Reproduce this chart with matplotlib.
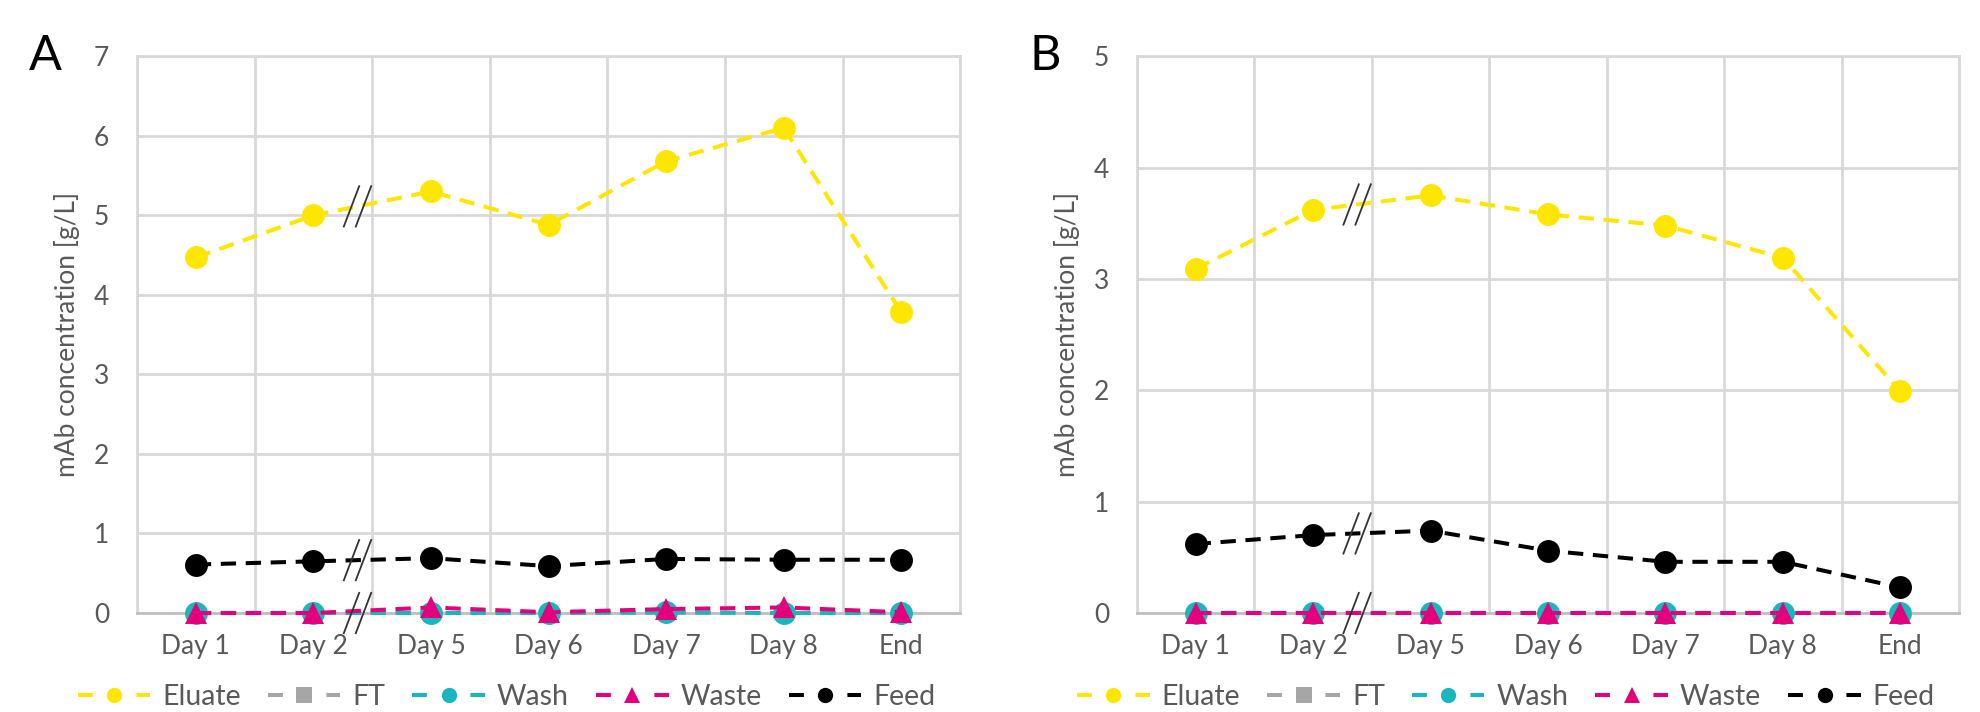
import numpy as np
import matplotlib
matplotlib.use("Agg")
import matplotlib.pyplot as plt
from matplotlib.lines import Line2D

# ---------------------------------------------------------------------
# mAb concentration per fraction, two runs (A, B)
# ---------------------------------------------------------------------

days = ["Day 1", "Day 2", "Day 5", "Day 6", "Day 7", "Day 8", "End"]
series_names = ["Eluate", "FT", "Wash", "Waste", "Feed"]

eluate_a = [4.47, 5.00, 5.30, 4.88, 5.68, 6.10, 3.78]
ft_a = [0.0, 0.0, 0.0, 0.0, 0.0, 0.0, 0.0]
wash_a = [0.0, 0.0, 0.0, 0.0, 0.01, 0.0, 0.0]
waste_a = [0.0, 0.0, 0.07, 0.01, 0.05, 0.07, 0.01]
feed_a = [0.61, 0.65, 0.69, 0.59, 0.68, 0.67, 0.67]

eluate_b = [3.09, 3.62, 3.75, 3.58, 3.48, 3.19, 1.99]
ft_b = [0.0, 0.0, 0.0, 0.0, 0.0, 0.0, 0.0]
wash_b = [0.0, 0.0, 0.0, 0.0, 0.0, 0.0, 0.0]
waste_b = [0.0, 0.0, 0.0, 0.0, 0.0, 0.0, 0.0]
feed_b = [0.62, 0.70, 0.74, 0.56, 0.46, 0.46, 0.23]

ymax_a = 7
ymax_b = 5

COLORS = {"Eluate": "#FFE600", "FT": "#A6A6A6", "Wash": "#19B6BE",
          "Waste": "#E4007C", "Feed": "#000000"}
MARKERS = {"Eluate": "o", "FT": "s", "Wash": "o", "Waste": "^", "Feed": "o"}
SIZES = {"Eluate": 16.5, "FT": 10, "Wash": 16.5, "Waste": 16, "Feed": 16.5}
TEXT_GREY = "#595959"
GRID_GREY = "#D9D9D9"
FS = 19
LEG_FS = 20.5

plt.rcParams["font.family"] = ["Lato", "DejaVu Sans"]


def draw_break(ax, x, y):
    """Two slanted strokes '//' centred on (x, y), sized in pixels."""
    cx, cy = ax.transData.transform((x, y))
    inv = ax.transData.inverted()
    for off in (-6, 6):
        pts = inv.transform([(cx + off - 8, cy - 21), (cx + off + 8, cy + 21)])
        ax.plot(pts[:, 0], pts[:, 1], color="#333333", lw=1.3,
                clip_on=False, zorder=8, solid_capstyle="butt")


def legend_handles():
    # Excel style: short dash, marker, short dash
    handles = []
    for name in series_names:
        handles.append(Line2D([], [], color=COLORS[name], lw=2.9,
                              dashes=(3.7, 10.8), dash_capstyle="butt",
                              marker=MARKERS[name], markersize=11,
                              markeredgewidth=0, label=name))
    return handles


def draw_panel(ax, data, ymax, letter):
    x = np.arange(len(days))
    for i, name in enumerate(series_names):
        ax.plot(x, data[name], color=COLORS[name], marker=MARKERS[name],
                markersize=SIZES[name], markeredgewidth=0, lw=2.9,
                dashes=(3.8, 2.4), dash_capstyle="butt", label=name,
                clip_on=False, zorder=3 + i)

    ax.set_xlim(-0.5, len(days) - 0.5)
    ax.set_ylim(0, ymax)
    ax.set_xticks(x)
    ax.set_xticklabels(days)
    ax.set_xticks(np.arange(len(days) + 1) - 0.5, minor=True)
    ax.set_yticks(np.arange(0, ymax + 1, 1))
    ax.tick_params(axis="both", which="both", length=0, labelsize=FS,
                   colors=TEXT_GREY)
    ax.tick_params(axis="y", pad=20)
    ax.tick_params(axis="x", pad=15)
    ax.grid(axis="y", which="major", color=GRID_GREY, lw=2)
    ax.grid(axis="x", which="minor", color=GRID_GREY, lw=2)
    ax.set_axisbelow(True)
    for side in ("left", "top", "right"):
        ax.spines[side].set_color(GRID_GREY)
        ax.spines[side].set_linewidth(2)
    ax.spines["bottom"].set_color("#BFBFBF")
    ax.spines["bottom"].set_linewidth(2)
    ax.set_ylabel("mAb concentration [g/L]", fontsize=FS, color=TEXT_GREY,
                  labelpad=10)

    # axis-break marks between Day 2 and Day 5
    xb = 1.375
    draw_break(ax, xb, np.interp(xb, x, data["Eluate"]))
    draw_break(ax, xb, np.interp(xb, x, data["Feed"]))
    draw_break(ax, xb, 0.0)

    ax.text(-0.112, 1.0, letter, transform=ax.transAxes, fontsize=35,
            ha="center", va="center", color="black")

    ax.legend(handles=legend_handles(), loc="center",
              bbox_to_anchor=(0.449, -0.151), ncol=5, frameon=False,
              fontsize=LEG_FS, labelcolor=TEXT_GREY, handlelength=2.55,
              handletextpad=0.42, columnspacing=0.95, borderpad=0.1)


def main():
    fig = plt.figure(figsize=(19.8, 7.12), dpi=100)
    ax_a = fig.add_axes([0.0692, 0.139, 0.4157, 0.782])
    ax_b = fig.add_axes([0.5742, 0.139, 0.4152, 0.782])

    data_a = {"Eluate": eluate_a, "FT": ft_a, "Wash": wash_a,
              "Waste": waste_a, "Feed": feed_a}
    data_b = {"Eluate": eluate_b, "FT": ft_b, "Wash": wash_b,
              "Waste": waste_b, "Feed": feed_b}

    draw_panel(ax_a, data_a, ymax_a, "A")
    draw_panel(ax_b, data_b, ymax_b, "B")

    fig.savefig("out.png", dpi=100)
    plt.close(fig)


if __name__ == "__main__":
    main()
